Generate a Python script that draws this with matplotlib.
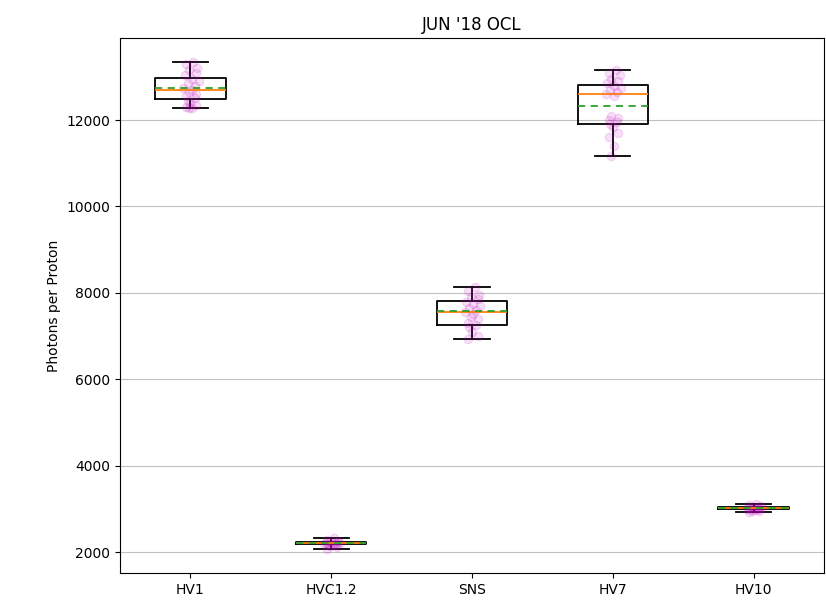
import matplotlib
matplotlib.use("Agg")
import matplotlib.pyplot as plt

categories = ["HV1", "HVC1.2", "SNS", "HV7", "HV10"]

# box statistics
q1 = [12486, 2182, 7262, 11907, 2992]
med = [12701, 2201, 7563, 12595, 3012]
q3 = [12972, 2228, 7810, 12803, 3036]
mean = [12734, 2203, 7570, 12331, 3014]
whislo = [12270, 2076, 6924, 11167, 2919]
whishi = [13343, 2317, 8127, 13157, 3111]

# individual measurements (overlaid points)
pts_hv1 = [13343, 13300, 13200, 13150, 13100, 13050, 12950, 12900, 12850, 12800,
           12750, 12700, 12650, 12600, 12550, 12500, 12450, 12400, 12350, 12300, 12280, 12270]
pts_hvc12 = [2317, 2280, 2250, 2230, 2220, 2210, 2205, 2200, 2195, 2190, 2180, 2170, 2150, 2120, 2076]
pts_sns = [8127, 8050, 7950, 7900, 7850, 7800, 7750, 7700, 7650, 7600, 7550, 7500,
           7450, 7400, 7300, 7250, 7200, 7100, 7000, 6924]
pts_hv7 = [13157, 13100, 13050, 12950, 12900, 12850, 12800, 12750, 12700, 12650, 12600,
           12550, 12100, 12050, 12000, 11950, 11900, 11850, 11700, 11600, 11400, 11167]
pts_hv10 = [3111, 3080, 3060, 3040, 3030, 3020, 3015, 3010, 3005, 3000, 2990, 2980, 2960, 2940, 2919]
points = [pts_hv1, pts_hvc12, pts_sns, pts_hv7, pts_hv10]

jitter = [0.02, -0.03, 0.05, -0.01, 0.04, -0.04, 0.01, 0.06, -0.02, 0.03, -0.05,
          0.01, -0.01, 0.04, -0.03, 0.03, -0.02, 0.0, 0.04, -0.03, 0.01, -0.01]

fig = plt.figure(figsize=(8.26, 6.03), dpi=100)
ax = fig.add_axes([120 / 826, 1 - 573 / 603, (824 - 120) / 826, (573 - 38) / 603])

stats = []
for i, c in enumerate(categories):
    stats.append(dict(label=c, q1=q1[i], med=med[i], q3=q3[i], mean=mean[i],
                      whislo=whislo[i], whishi=whishi[i], fliers=[]))

positions = list(range(1, len(categories) + 1))
ax.bxp(stats, positions=positions, widths=0.5, showmeans=True, meanline=True,
       boxprops=dict(linewidth=1.3), whiskerprops=dict(linewidth=1.3),
       capprops=dict(linewidth=1.3),
       medianprops=dict(color='C1', linewidth=1.3),
       meanprops=dict(color='C2', linestyle=(0, (4, 3)), linewidth=1.3))

for i, pts in enumerate(points):
    xs = [positions[i] + jitter[k % len(jitter)] for k in range(len(pts))]
    ax.plot(xs, pts, 'o', color='m', alpha=0.12, markersize=6, markeredgewidth=1)

ax.yaxis.grid(True, color='#c0c0c0', linewidth=0.8)
ax.set_axisbelow(True)
ax.set_xlim(0.5, 5.5)
ax.set_ylim(1515, 13900)
ax.set_yticks([2000, 4000, 6000, 8000, 10000, 12000])
ax.set_ylabel("Photons per Proton")
ax.set_title("JUN '18 OCL")

fig.savefig("out.png", dpi=100)
